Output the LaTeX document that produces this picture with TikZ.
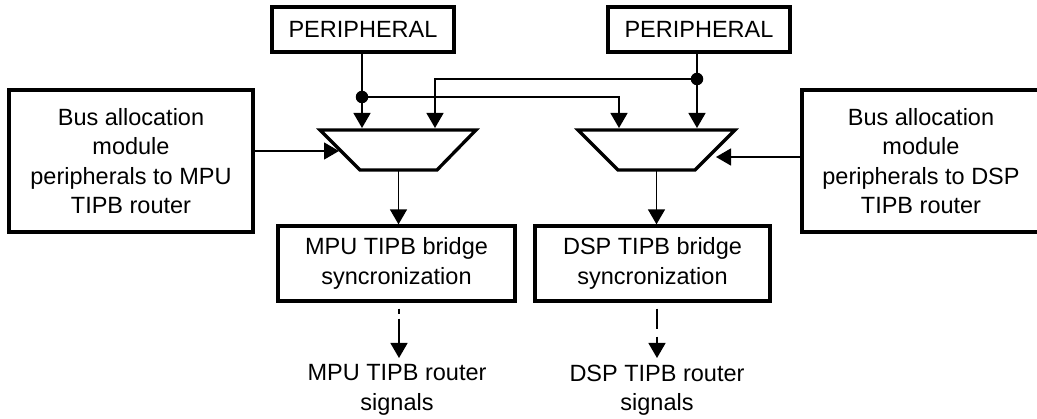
\documentclass[tikz,border=0pt]{standalone}
\usepackage{fontspec}
\setmainfont{Liberation Sans}
\usetikzlibrary{arrows.meta}
\begin{document}
\begin{tikzpicture}[x=1pt,y=-1pt,
  font=\fontsize{23.5}{29.5}\selectfont,
  box/.style={draw,line width=3.3pt,align=center,inner sep=0pt},
  wire/.style={line width=1.4pt},
  arr/.style={wire,-{Triangle[length=15pt,width=17pt]}},
  muxshape/.style={draw,line width=3.3pt,line join=miter},
  tap/.style={circle,fill,inner sep=0pt,minimum size=12.5pt},
  lbl/.style={align=center,inner sep=0pt}]
\clip (0,0) rectangle (1037,419);
\useasboundingbox (0,0) rectangle (1037,419);

% peripheral sources
\node[box,minimum width=182pt,minimum height=45pt] (perL) at (363,29.5) {PERIPHERAL};
\node[box,minimum width=182pt,minimum height=45pt] (perR) at (699,29.5) {PERIPHERAL};

% bus allocation modules
\node[box,minimum width=244pt,minimum height=142pt] (busL) at (131,161)
  {Bus allocation\\module\\peripherals to MPU\\TIPB router};
\node[box,minimum width=238pt,minimum height=142pt] (busR) at (921,161)
  {Bus allocation\\module\\peripherals to DSP\\TIPB router};

% multiplexers
\draw[muxshape] (320,130) coordinate (muxLtl) -- (476,130) coordinate (muxLtr)
  -- (437,170) coordinate (muxLbr) -- (360,170) coordinate (muxLbl) -- cycle;
\draw[muxshape] (578,130) coordinate (muxRtl) -- (735,130) coordinate (muxRtr)
  -- (695,170) coordinate (muxRbr) -- (618,170) coordinate (muxRbl) -- cycle;
\coordinate (muxLout) at (398.5,170);
\coordinate (muxRout) at (656.5,170);
\coordinate (muxLin1) at (362,128);
\coordinate (muxLin2) at (435,128);
\coordinate (muxRin1) at (619,128);
\coordinate (muxRin2) at (697,128);
\coordinate (muxLside) at (339,151);
\coordinate (muxRside) at (716,157);

% bridge synchronisation blocks
\node[box,minimum width=237pt,minimum height=75pt] (brL) at (396.5,263.5)
  {MPU TIPB bridge\\syncronization};
\node[box,minimum width=235pt,minimum height=75pt] (brR) at (652.5,263.5)
  {DSP TIPB bridge\\syncronization};

% output signal labels
\node[lbl] (sigL) at (397,390) {MPU TIPB router\\signals};
\node[lbl] (sigR) at (657,390) {DSP TIPB router\\signals};

% taps on the peripheral lines
\node[tap] (tapL) at (362,97) {};
\node[tap] (tapR) at (697,79) {};

% peripheral feeds
\draw[arr] (perL.south -| tapL) -- (muxLin1);
\draw[arr] (perR.south -| tapR) -- (muxRin2);
\draw[arr] (tapL.center) -- (muxRin1 |- tapL) -- (muxRin1);
\draw[arr] (tapR.center) -- (muxLin2 |- tapR) -- (muxLin2);

% side inputs
\draw[arr] (busL.east |- muxLside) -- (muxLside);
\draw[arr] (busR.west |- muxRside) -- (muxRside);

% mux outputs
\draw[arr] (muxLout) -- (brL.north -| muxLout);
\draw[arr] (muxRout) -- (brR.north -| muxRout);

% outgoing router signals
\coordinate (endL) at (399,358);
\coordinate (endR) at (657,358);
\draw[arr,dash pattern=on 5pt off 5pt on 60pt] (brL.south -| endL) ++(0,6) -- (endL);
\draw[arr,dash pattern=on 20pt off 8pt on 60pt] (brR.south -| endR) ++(0,6) -- (endR);
\end{tikzpicture}
\end{document}
